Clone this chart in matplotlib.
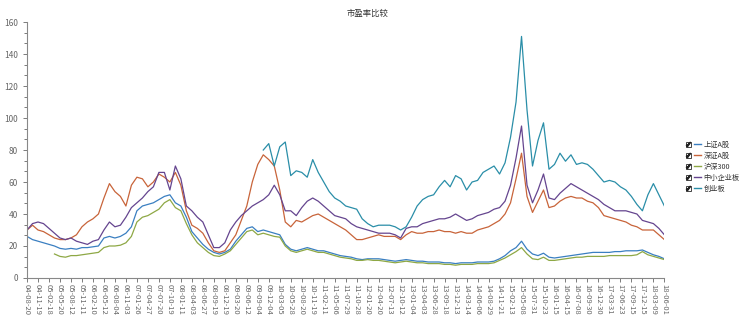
import numpy as np
import matplotlib
matplotlib.use('Agg')
import matplotlib.pyplot as plt
from matplotlib.lines import Line2D
from matplotlib.legend_handler import HandlerTuple
from matplotlib.ticker import AutoMinorLocator

plt.rcParams['font.family'] = ['Noto Sans CJK SC', 'DejaVu Sans']

# 周度数据, 每 6 周取一个点
step = 6

date_labels = ['04-08-20', '04-11-19', '05-02-18', '05-05-20', '05-08-12', '05-11-11',
               '06-02-10', '06-05-12', '06-08-04', '06-11-03', '07-01-26', '07-04-27',
               '07-07-20', '07-10-19', '08-01-11', '08-04-03', '08-06-27', '08-09-19',
               '08-12-19', '09-03-20', '09-06-12', '09-09-04', '09-12-04', '10-03-05',
               '10-05-28', '10-08-20', '10-11-19', '11-02-11', '11-05-06', '11-07-29',
               '11-10-28', '12-01-20', '12-04-20', '12-07-13', '12-10-12', '13-01-04',
               '13-04-03', '13-06-28', '13-09-18', '13-12-13', '14-03-14', '14-06-06',
               '14-08-29', '14-11-21', '15-02-13', '15-05-08', '15-07-31', '15-10-23',
               '16-01-15', '16-04-15', '16-07-08', '16-09-30', '16-12-30', '17-03-31',
               '17-06-23', '17-09-15', '17-12-15', '18-03-09', '18-06-01']

sh_a = [26, 24, 23, 22, 21, 20, 18.5, 18, 18.5, 18,
        19, 19, 19.5, 20, 25, 26, 25, 26, 28, 32,
        42, 45, 46, 47, 49, 51, 52, 47, 45, 38,
        29, 25, 21, 18, 16, 15, 16, 18, 23, 27,
        31, 32, 29, 30, 29, 28, 27, 21, 18, 17,
        18, 19, 18, 17, 17, 16, 15, 14, 13.5, 13,
        12, 11.5, 12, 12, 12, 11.5, 11, 10.5, 11, 11.5,
        11, 10.5, 10.5, 10, 10, 10, 9.5, 9.5, 9, 9.5,
        9.5, 9.5, 10, 10, 10, 10.5, 12, 14, 17, 19,
        23, 18, 15, 14, 15.5, 13, 12.5, 13, 13.5, 14,
        14.5, 15, 15.5, 16, 16, 16, 16, 16.5, 16.5, 17,
        17, 17, 17.5, 16, 14.5, 13.5, 12]

sz_a = [30, 33, 30, 29, 27, 25, 24, 24, 25, 27,
        32, 35, 37, 40, 50, 59, 54, 51, 45, 58,
        63, 62, 57, 60, 65, 63, 60, 66, 58, 42,
        33, 31, 28, 22, 17, 16, 17, 22, 27, 36,
        45, 60, 71, 77, 74, 70, 55, 35, 32, 36,
        35, 37, 39, 40, 38, 36, 34, 32, 30, 27,
        24, 24, 25, 26, 27, 26, 26, 26, 24, 27,
        29, 28, 28, 29, 29, 30, 29, 29, 28, 29,
        28, 28, 30, 31, 32, 34, 36, 40, 47, 62,
        78, 51, 41, 48, 55, 44, 45, 48, 50, 51,
        50, 50, 48, 47, 44, 39, 38, 37, 36, 35,
        33, 32, 30, 30, 30, 27, 24]

hs300_start = 5
hs300 = [15, 13.5, 13, 14, 14,
         14.5, 15, 15.5, 16, 19, 20, 20, 20.5, 22, 26,
         35, 38, 39, 41, 43, 47, 49, 44, 42, 34,
         27, 22, 19, 16, 14, 13.5, 15, 17, 21, 25,
         29, 30, 27, 28, 27, 26, 25.5, 20, 17, 16,
         17, 18, 17, 16, 16, 15, 14, 13, 12.5, 12,
         11, 11, 11.5, 11, 11, 10.5, 10, 9.5, 10, 10.5,
         10, 9.5, 9.5, 9, 9, 9, 8.5, 8.5, 8, 8.5,
         8.5, 8.5, 9, 9, 9, 9.5, 11, 12.5, 14.5, 16.5,
         19, 15, 12, 11.5, 13, 11, 11, 11.5, 12, 12.5,
         13, 13, 13.5, 13.5, 13.5, 13.5, 14, 14, 14, 14,
         14, 14.5, 16.5, 14.5, 13.5, 12.5, 11.5]

zxb = [30, 34, 35, 34, 31, 28, 25, 24, 25, 23,
       22, 21, 23, 24, 30, 35, 32, 33, 38, 44,
       47, 50, 54, 57, 66, 66, 55, 70, 62, 45,
       42, 38, 35, 27, 19, 19, 22, 30, 35, 39,
       42, 45, 47, 49, 52, 58, 52, 42, 42, 39,
       44, 48, 50, 48, 45, 42, 39, 38, 37, 34,
       32, 31, 30, 29, 28, 28, 28, 27, 25, 31,
       32, 32, 34, 35, 36, 37, 37, 38, 40, 38,
       36, 37, 39, 40, 41, 43, 44, 48, 58, 75,
       95, 58, 47, 55, 65, 50, 49, 53, 56, 59,
       57, 55, 53, 51, 49, 46, 44, 42, 42, 42,
       41, 40, 36, 35, 34, 31, 27]

cyb_start = 43
cyb = [80, 84, 70, 82, 85, 64, 67,
       66, 63, 74, 66, 60, 54, 50, 48, 45, 44,
       43, 37, 34, 32, 33, 33, 33, 32, 30, 32,
       38, 45, 49, 51, 52, 57, 61, 57, 64, 62,
       55, 60, 61, 66, 68, 70, 65, 72, 88, 110,
       151, 105, 70, 86, 97, 68, 71, 78, 73, 77,
       71, 72, 71, 68, 64, 60, 61, 60, 57, 55,
       51, 46, 42, 52, 59, 52, 45]

names = ['上证A股', '深证A股', '沪深300', '中小企业板', '创业板']
colors = ['#3a7fc1', '#c8643a', '#8ea845', '#65458f', '#2a8ea8']

weeks = np.arange(len(sh_a)) * step

fig = plt.figure(figsize=(7.42, 3.24), dpi=100)
ax = fig.add_axes([0.0364, 0.142, 0.859, 0.79])

lw = 0.9
l1, = ax.plot(weeks, sh_a, color=colors[0], lw=lw)
l2, = ax.plot(weeks, sz_a, color=colors[1], lw=lw)
l3, = ax.plot(weeks[hs300_start:], hs300, color=colors[2], lw=lw)
l4, = ax.plot(weeks, zxb, color=colors[3], lw=lw)
l5, = ax.plot(weeks[cyb_start:], cyb, color=colors[4], lw=lw)

ax.set_xlim(0, weeks[-1])
ax.set_ylim(0, 160)
ax.set_yticks(np.arange(0, 161, 20))
ax.yaxis.set_minor_locator(AutoMinorLocator(3))
ax.set_xticks(np.arange(len(date_labels)) * 12)
ax.set_xticklabels(date_labels, rotation=-90, fontsize=5.5, color='#666666')
ax.tick_params(axis='y', labelsize=6, colors='#666666', length=3, width=0.6)
ax.tick_params(axis='y', which='minor', length=2, width=0.6, color='#666666')
ax.tick_params(axis='x', length=3, width=0.6, colors='#666666', pad=1)

for s in ['top', 'right']:
    ax.spines[s].set_visible(False)
for s in ['left', 'bottom']:
    ax.spines[s].set_color('#888888')
    ax.spines[s].set_linewidth(0.8)

fig.text(0.496, 0.958, '市盈率比较', ha='center', va='center', fontsize=6, color='#333333')

# 图例: 复选框 + 线段 + 名称
handles = []
hmap = {tuple: HandlerTuple(ndivide=None, pad=0.3)}
for line in [l1, l2, l3, l4, l5]:
    box = Line2D([], [], marker='s', markersize=3.6, markerfacecolor='white',
                 markeredgecolor='#444444', markeredgewidth=0.7, linestyle='none')
    tick = Line2D([], [], marker='$\u2713$', markersize=3, color='#222222', linestyle='none')
    check = (box, tick)
    hmap[check] = HandlerTuple(ndivide=1)
    seg = Line2D([], [], color=line.get_color(), lw=1)
    handles.append((check, seg))
fig.legend(handles, names, loc='center left', bbox_to_anchor=(0.922, 0.486),
           frameon=False, fontsize=5.2, handlelength=2.4, handletextpad=0.3,
           labelspacing=0.42, labelcolor='#333333', borderpad=0, borderaxespad=0,
           handler_map=hmap)

fig.savefig('out.png', dpi=100)
